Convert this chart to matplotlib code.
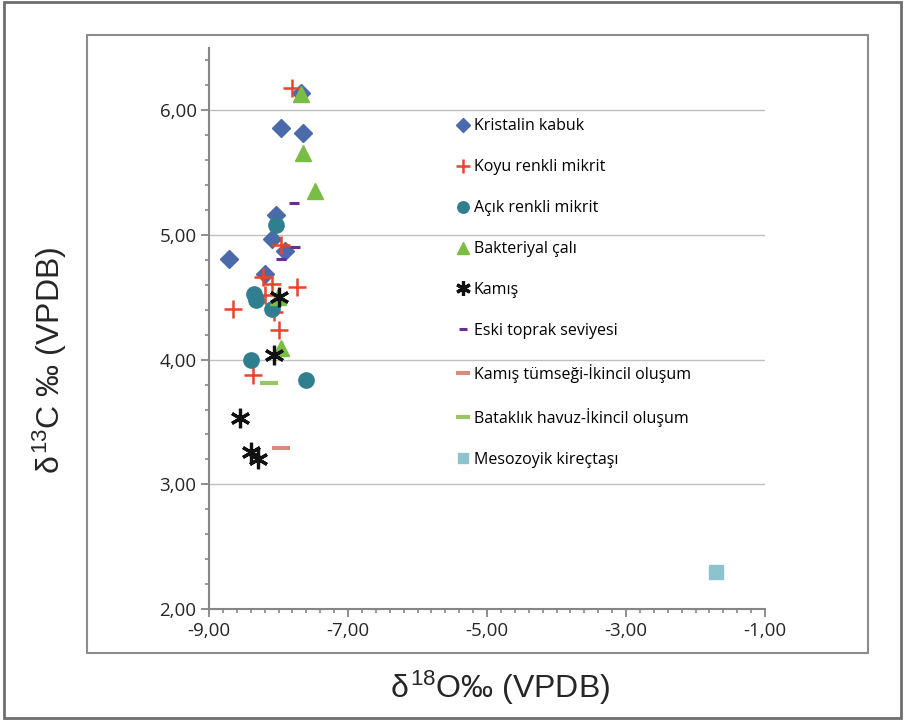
import matplotlib

matplotlib.use("Agg")
import matplotlib.pyplot as plt
from matplotlib.patches import Rectangle
from matplotlib.ticker import MultipleLocator

plt.rcParams["font.family"] = ["Open Sans", "DejaVu Sans"]
plt.rcParams["mathtext.fontset"] = "custom"
plt.rcParams["mathtext.rm"] = "Liberation Sans"
plt.rcParams["mathtext.it"] = "Liberation Sans"

# degerler (d18O, d13C)
kristalin_x = [-7.67, -7.97, -7.65, -8.03, -8.09, -7.91, -8.71, -8.19]
kristalin_y = [6.14, 5.86, 5.82, 5.16, 4.97, 4.87, 4.81, 4.69]

koyu_x = [-7.81, -7.96, -8.22, -8.09, -7.73, -8.20, -8.66, -8.07, -7.99, -8.37]
koyu_y = [6.18, 4.92, 4.66, 4.61, 4.58, 4.52, 4.41, 4.38, 4.24, 3.88]

acik_x = [-8.03, -8.35, -8.32, -8.10, -8.40, -7.61]
acik_y = [5.08, 4.53, 4.48, 4.41, 4.00, 3.84]

bakteri_x = [-7.67, -7.65, -7.47, -8.01, -7.97]
bakteri_y = [6.13, 5.66, 5.35, 4.50, 4.09]

kamis_x = [-8.00, -8.07, -8.55, -8.40, -8.29]
kamis_y = [4.50, 4.04, 3.53, 3.26, 3.20]

eski_x = [-7.77, -7.76, -7.97]
eski_y = [5.26, 4.90, 4.81]

tumsek_x = [-7.97]
tumsek_y = [3.29]

batak_x = [-8.14]
batak_y = [3.81]

meso_x = [-1.71]
meso_y = [2.30]

XTICKS = [-9, -7, -5, -3, -1]
XTICK_LABELS = ["-9,00", "-7,00", "-5,00", "-3,00", "-1,00"]
YTICKS = [2, 3, 4, 5, 6]
YTICK_LABELS = ["2,00", "3,00", "4,00", "5,00", "6,00"]

SERIES = [
    ("Kristalin kabuk", kristalin_x, kristalin_y, dict(marker="D", ms=9, color="#4a6aab")),
    ("Koyu renkli mikrit", koyu_x, koyu_y, dict(marker="+", ms=13, mew=1.8, color="#e8452c")),
    ("Açık renkli mikrit", acik_x, acik_y, dict(marker="o", ms=11, color="#2f7f90")),
    ("Bakteriyal çalı", bakteri_x, bakteri_y, dict(marker="^", ms=11, color="#79bd45")),
    ("Kamış", kamis_x, kamis_y, dict(marker=(6, 2, 0), ms=14, mew=2.3, color="#111111")),
    ("Eski toprak seviyesi", eski_x, eski_y, dict(marker="_", ms=7, mew=2.2, color="#6a2d91")),
    ("Kamış tümseği-İkincil oluşum", tumsek_x, tumsek_y, dict(marker="_", ms=13, mew=3.0, color="#d98b7b")),
    ("Bataklık havuz-İkincil oluşum", batak_x, batak_y, dict(marker="_", ms=13, mew=3.0, color="#9bc464")),
    ("Mesozoyik kireçtaşı", meso_x, meso_y, dict(marker="s", ms=10, color="#8cc3cf")),
]

fig = plt.figure(figsize=(9.05, 7.2), dpi=100)
ax = fig.add_axes([209 / 905, 1 - 609 / 720, 556 / 905, 561 / 720])

for label, xs, ys, style in SERIES:
    ax.plot(xs, ys, linestyle="none", label=label, **style)

ax.set_xlim(-9, -1)
ax.set_ylim(2, 6.5)
ax.set_xticks(XTICKS)
ax.set_xticklabels(XTICK_LABELS)
ax.set_yticks(YTICKS)
ax.set_yticklabels(YTICK_LABELS)
ax.xaxis.set_minor_locator(MultipleLocator(0.2))
ax.yaxis.set_minor_locator(MultipleLocator(0.2))
ax.tick_params(which="major", length=6, width=1.3, color="#868686",
               labelsize=13.5, labelcolor="#262626", pad=3)
ax.tick_params(which="minor", length=3, width=1.2, color="#868686")

for side in ("top", "right"):
    ax.spines[side].set_visible(False)
for side in ("left", "bottom"):
    ax.spines[side].set_color("#868686")
    ax.spines[side].set_linewidth(1.5)

ax.grid(True, axis="y", which="major", color="#bfbfbf", linewidth=1)
ax.set_axisbelow(True)

ax.legend(loc="upper left", bbox_to_anchor=(441 / 905, 1 - 104 / 720),
          bbox_transform=fig.transFigure, frameon=False, numpoints=1,
          fontsize=11.5, labelspacing=1.56, handlelength=0.9, handletextpad=0.25,
          markerscale=0.75)

fig.text(500 / 905, 1 - 688 / 720, r"$\delta^{18}$O‰ (VPDB)", ha="center", va="center",
         fontsize=23, family="Liberation Sans", color="#262626")
fig.text(50 / 905, 1 - 360 / 720, r"$\delta^{13}$C ‰ (VPDB)", ha="center", va="center",
         rotation=90, fontsize=23, family="Liberation Sans", color="#262626")

fig.patches.append(Rectangle((87 / 905, 1 - 653 / 720), 781 / 905, 618 / 720,
                             transform=fig.transFigure, fill=False,
                             edgecolor="#8c8c8c", linewidth=1.5))
fig.patches.append(Rectangle((0.004, 0.003), 0.992, 0.994, transform=fig.transFigure,
                             fill=False, edgecolor="#6e6e6e", linewidth=2))

fig.savefig("out.png", dpi=100)
